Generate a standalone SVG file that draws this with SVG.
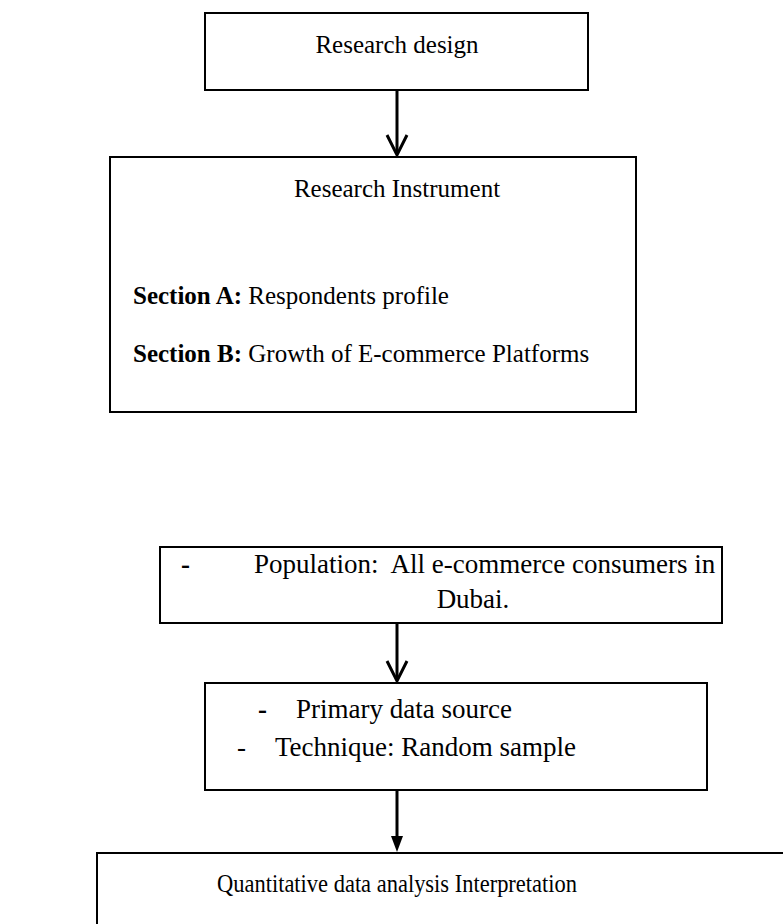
<svg xmlns="http://www.w3.org/2000/svg" width="783" height="924" viewBox="0 0 783 924">
  <style>
    .box { fill: #ffffff; stroke: #000000; stroke-width: 2; }
    .t { font-family: "Liberation Serif", "Times New Roman", serif; font-size: 25px; fill: #000000; }
    .lg { font-size: 27px; }
    .c { text-anchor: middle; }
    .b { font-weight: bold; }
    .link { stroke: #000000; stroke-width: 3; fill: none; }
    .chev { stroke: #000000; stroke-width: 3; fill: none; stroke-linejoin: miter; }
  </style>
  <rect width="783" height="924" fill="#ffffff"/>

  <g id="research-design">
    <rect class="box" x="205" y="13" width="383" height="77"/>
    <text class="t c" x="397" y="53">Research design</text>
  </g>

  <g id="research-instrument">
    <rect class="box" x="110" y="157" width="526" height="255"/>
    <text class="t c" x="397" y="197">Research Instrument</text>
    <text class="t" x="133" y="304"><tspan class="b">Section A:</tspan> Respondents profile</text>
    <text class="t" x="133" y="362"><tspan class="b">Section B:</tspan> Growth of E-commerce Platforms</text>
  </g>

  <g id="population">
    <rect class="box" x="160" y="547" width="562" height="76"/>
    <text class="t lg b" x="181" y="573">-</text>
    <text class="t lg" x="254" y="573" xml:space="preserve">Population:  All e-commerce consumers in</text>
    <text class="t lg c" x="473" y="608">Dubai.</text>
  </g>

  <g id="sampling">
    <rect class="box" x="205" y="683" width="502" height="107"/>
    <text class="t lg b" x="258" y="718">-</text>
    <text class="t lg" x="296" y="718">Primary data source</text>
    <text class="t lg" x="237" y="756">-</text>
    <text class="t lg" x="275" y="756">Technique: Random sample</text>
  </g>

  <g id="analysis">
    <path class="box" d="M97,930 L97,853 L790,853"/>
    <text class="t c" x="397" y="892" textLength="360" lengthAdjust="spacingAndGlyphs">Quantitative data analysis Interpretation</text>
  </g>

  <g id="connectors">
    <line class="link" x1="397" y1="90" x2="397" y2="154"/>
    <polyline class="chev" points="387,135 397,155 407,135"/>
    <line class="link" x1="397" y1="623" x2="397" y2="680"/>
    <polyline class="chev" points="387,661 397,681 407,661"/>
    <line class="link" x1="397" y1="790" x2="397" y2="838"/>
    <path d="M391,836 L403,836 L397,852 Z" fill="#000000"/>
  </g>
</svg>
